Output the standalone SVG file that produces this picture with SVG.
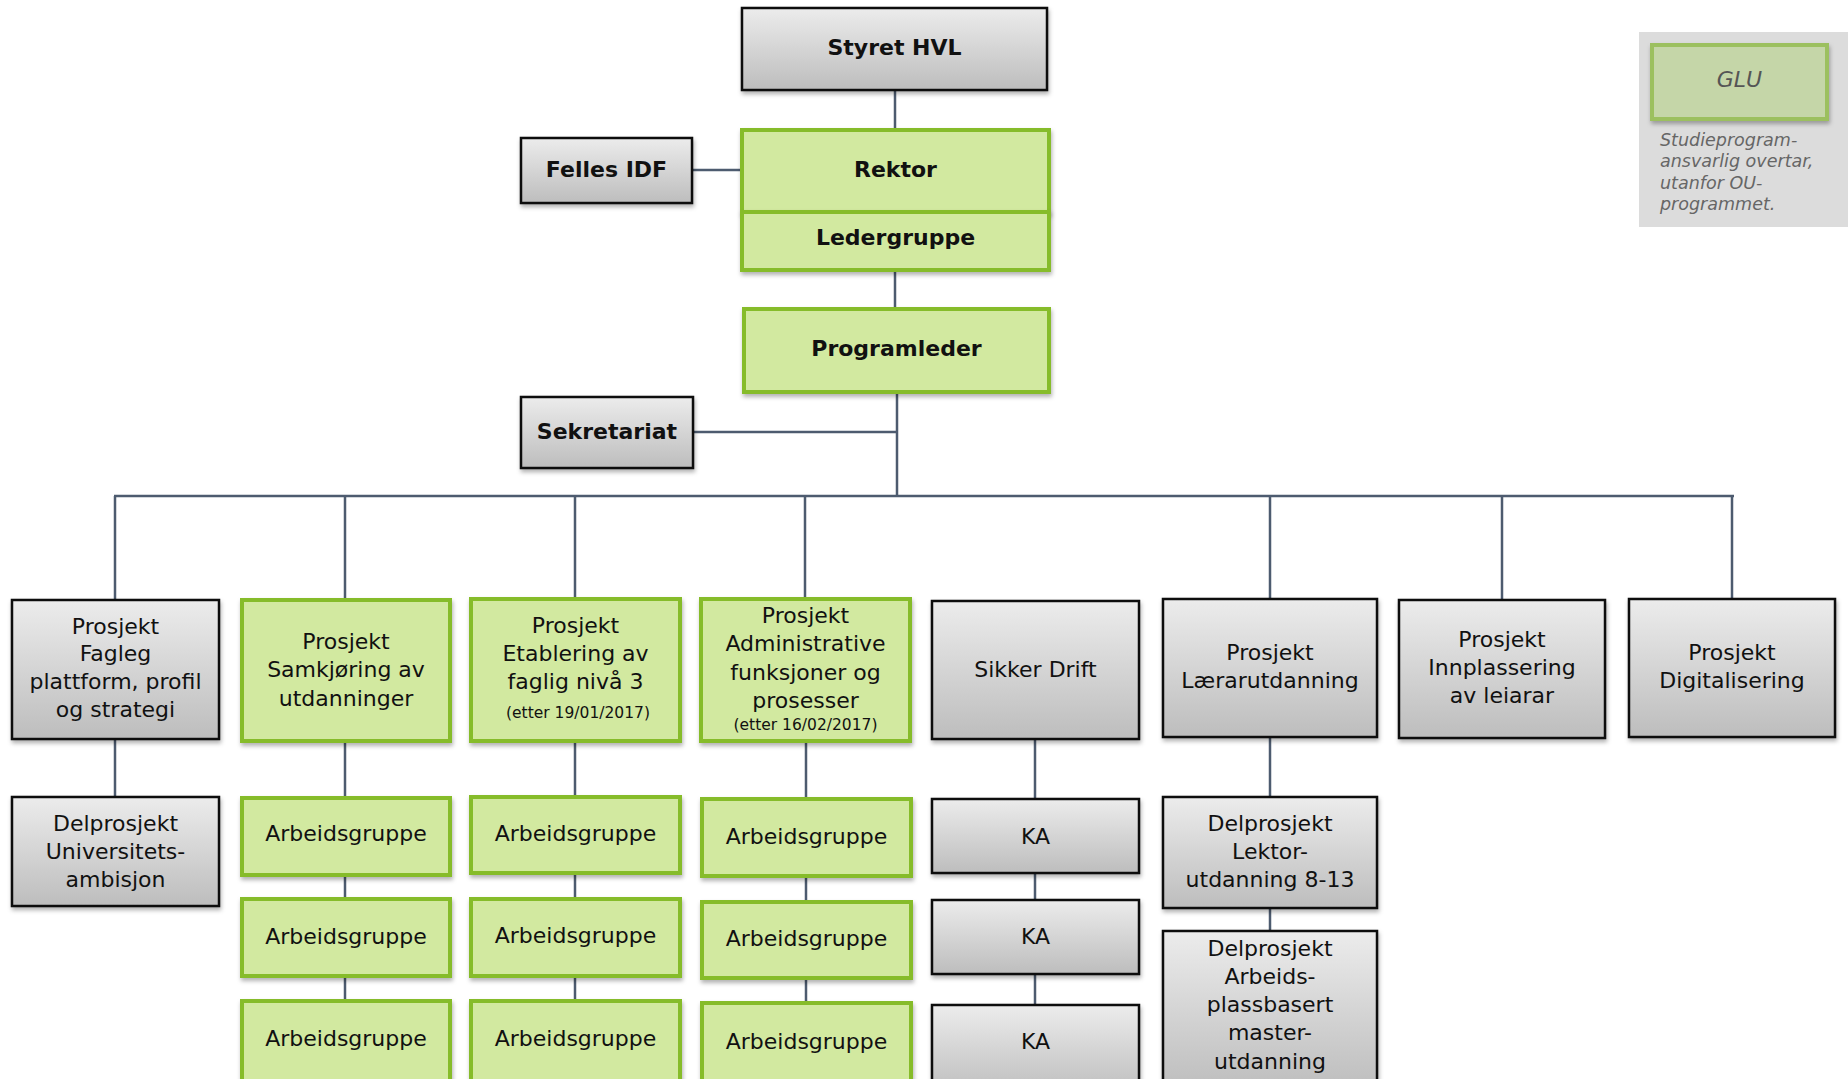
<svg xmlns="http://www.w3.org/2000/svg" width="1848" height="1079" viewBox="0 0 1848 1079">
<defs>
<linearGradient id="gray" x1="0" y1="0" x2="0" y2="1">
<stop offset="0" stop-color="#ececec"/>
<stop offset="1" stop-color="#bdbdbd"/>
</linearGradient>
<filter id="sh" x="-10%" y="-10%" width="130%" height="130%">
<feDropShadow dx="1" dy="3" stdDeviation="2" flood-color="#000" flood-opacity="0.3"/>
</filter>
</defs>
<style>
.g{fill:url(#gray);stroke:#111;stroke-width:2.5;filter:url(#sh)}
.gr{fill:#d2e9a0;stroke:#86bc2a;stroke-width:4;filter:url(#sh)}
text{font-family:"DejaVu Sans","Verdana",sans-serif;font-size:22px;fill:#111;text-anchor:middle}
.b{font-weight:bold}
.s{font-size:15.5px}
.c line{stroke:#4d5b6f;stroke-width:2.5}
.glu{fill:#c5d6a8;stroke:#9cc05e;stroke-width:4;filter:url(#sh)}
.it{font-style:italic;fill:#666}
</style>
<rect width="1848" height="1079" fill="#fff"/>
<g class="c" id="connectors">
<line x1="895" y1="90" x2="895" y2="130"/>
<line x1="692" y1="170" x2="742" y2="170"/>
<line x1="895" y1="270" x2="895" y2="309"/>
<line x1="897" y1="392" x2="897" y2="497"/>
<line x1="693" y1="432" x2="897" y2="432"/>
<line x1="114" y1="496" x2="1734" y2="496"/>
<line x1="115" y1="496" x2="115" y2="600"/>
<line x1="345" y1="496" x2="345" y2="600"/>
<line x1="575" y1="496" x2="575" y2="599"/>
<line x1="805" y1="496" x2="805" y2="599"/>
<line x1="1270" y1="496" x2="1270" y2="599"/>
<line x1="1502" y1="496" x2="1502" y2="600"/>
<line x1="1732" y1="496" x2="1732" y2="599"/>
<line x1="115" y1="739" x2="115" y2="797"/>
<line x1="345" y1="741" x2="345" y2="798"/>
<line x1="345" y1="875" x2="345" y2="899"/>
<line x1="345" y1="976" x2="345" y2="1001"/>
<line x1="575" y1="741" x2="575" y2="797"/>
<line x1="575" y1="873" x2="575" y2="899"/>
<line x1="575" y1="976" x2="575" y2="1001"/>
<line x1="806" y1="741" x2="806" y2="799"/>
<line x1="806" y1="876" x2="806" y2="902"/>
<line x1="806" y1="978" x2="806" y2="1003"/>
<line x1="1035" y1="739" x2="1035" y2="799"/>
<line x1="1035" y1="873" x2="1035" y2="900"/>
<line x1="1035" y1="974" x2="1035" y2="1005"/>
<line x1="1270" y1="737" x2="1270" y2="797"/>
<line x1="1270" y1="908" x2="1270" y2="931"/>
</g>
<g id="styret"><rect class="g" x="742" y="8" width="305" height="82"/><text class="b" x="894.5" y="55">Styret HVL</text></g>
<g id="felles-idf"><rect class="g" x="521" y="138" width="171" height="65"/><text class="b" x="606.5" y="177">Felles IDF</text></g>
<g id="rektor"><rect class="gr" x="742" y="130" width="307" height="82"/><text class="b" x="895.5" y="177">Rektor</text></g>
<g id="ledergruppe"><rect class="gr" x="742" y="212" width="307" height="58"/><text class="b" x="895.5" y="245">Ledergruppe</text></g>
<g id="programleder"><rect class="gr" x="744" y="309" width="305" height="83"/><text class="b" x="896.5" y="356">Programleder</text></g>
<g id="sekretariat"><rect class="g" x="521" y="397" width="172" height="71"/><text class="b" x="607" y="439">Sekretariat</text></g>
<g id="glu-panel">
<rect x="1639" y="32" width="209" height="195" fill="#dcdcdc"/>
<rect class="glu" x="1652" y="45" width="175" height="74"/>
<text class="it" x="1739.5" y="87" style="fill:#555">GLU</text>
<text class="it" x="1660" y="146" style="font-size:17.5px;text-anchor:start">Studieprogram-</text>
<text class="it" x="1660" y="167" style="font-size:17.5px;text-anchor:start">ansvarlig overtar,</text>
<text class="it" x="1660" y="189" style="font-size:17.5px;text-anchor:start">utanfor OU-</text>
<text class="it" x="1660" y="210" style="font-size:17.5px;text-anchor:start">programmet.</text>
</g>
<g id="fagleg"><rect class="g" x="12" y="600" width="207" height="139"/>
<text x="115.5" y="634">Prosjekt</text><text x="115.5" y="661">Fagleg</text><text x="115.5" y="689">plattform, profil</text><text x="115.5" y="717">og strategi</text></g>
<g id="samkjoring"><rect class="gr" x="242" y="600" width="208" height="141"/>
<text x="346" y="649">Prosjekt</text><text x="346" y="677">Samkjøring av</text><text x="346" y="706">utdanninger</text></g>
<g id="etablering"><rect class="gr" x="471" y="599" width="209" height="142"/>
<text x="575.5" y="633">Prosjekt</text><text x="575.5" y="661">Etablering av</text><text x="575.5" y="689">faglig nivå 3</text><text class="s" x="578" y="718">(etter 19/01/2017)</text></g>
<g id="administrative"><rect class="gr" x="701" y="599" width="209" height="142"/>
<text x="805.5" y="623">Prosjekt</text><text x="805.5" y="651">Administrative</text><text x="805.5" y="680">funksjoner og</text><text x="805.5" y="708">prosesser</text><text class="s" x="805.5" y="730">(etter 16/02/2017)</text></g>
<g id="sikker-drift"><rect class="g" x="932" y="601" width="207" height="138"/><text x="1035.5" y="677">Sikker Drift</text></g>
<g id="laerarutdanning"><rect class="g" x="1163" y="599" width="214" height="138"/>
<text x="1270" y="660">Prosjekt</text><text x="1270" y="688">Lærarutdanning</text></g>
<g id="innplassering"><rect class="g" x="1399" y="600" width="206" height="138"/>
<text x="1502" y="647">Prosjekt</text><text x="1502" y="675">Innplassering</text><text x="1502" y="703">av leiarar</text></g>
<g id="digitalisering"><rect class="g" x="1629" y="599" width="206" height="138"/>
<text x="1732" y="660">Prosjekt</text><text x="1732" y="688">Digitalisering</text></g>
<g id="universitet"><rect class="g" x="12" y="797" width="207" height="109"/>
<text x="115.5" y="831">Delprosjekt</text><text x="115.5" y="859">Universitets-</text><text x="115.5" y="887">ambisjon</text></g>
<g id="ag-2-1"><rect class="gr" x="242" y="798" width="208" height="77"/><text x="346" y="841">Arbeidsgruppe</text></g>
<g id="ag-2-2"><rect class="gr" x="242" y="899" width="208" height="77"/><text x="346" y="944">Arbeidsgruppe</text></g>
<g id="ag-2-3"><rect class="gr" x="242" y="1001" width="208" height="90"/><text x="346" y="1046">Arbeidsgruppe</text></g>
<g id="ag-3-1"><rect class="gr" x="471" y="797" width="209" height="76"/><text x="575.5" y="841">Arbeidsgruppe</text></g>
<g id="ag-3-2"><rect class="gr" x="471" y="899" width="209" height="77"/><text x="575.5" y="943">Arbeidsgruppe</text></g>
<g id="ag-3-3"><rect class="gr" x="471" y="1001" width="209" height="90"/><text x="575.5" y="1046">Arbeidsgruppe</text></g>
<g id="ag-4-1"><rect class="gr" x="702" y="799" width="209" height="77"/><text x="806.5" y="844">Arbeidsgruppe</text></g>
<g id="ag-4-2"><rect class="gr" x="702" y="902" width="209" height="76"/><text x="806.5" y="946">Arbeidsgruppe</text></g>
<g id="ag-4-3"><rect class="gr" x="702" y="1003" width="209" height="90"/><text x="806.5" y="1049">Arbeidsgruppe</text></g>
<g id="ka-1"><rect class="g" x="932" y="799" width="207" height="74"/><text x="1035.5" y="844">KA</text></g>
<g id="ka-2"><rect class="g" x="932" y="900" width="207" height="74"/><text x="1035.5" y="944">KA</text></g>
<g id="ka-3"><rect class="g" x="932" y="1005" width="207" height="90"/><text x="1035.5" y="1049">KA</text></g>
<g id="lektor"><rect class="g" x="1163" y="797" width="214" height="111"/>
<text x="1270" y="831">Delprosjekt</text><text x="1270" y="859">Lektor-</text><text x="1270" y="887">utdanning 8-13</text></g>
<g id="arbeidsplassbasert"><rect class="g" x="1163" y="931" width="214" height="160"/>
<text x="1270" y="956">Delprosjekt</text><text x="1270" y="984">Arbeids-</text><text x="1270" y="1012">plassbasert</text><text x="1270" y="1040">master-</text><text x="1270" y="1069">utdanning</text></g>
</svg>
